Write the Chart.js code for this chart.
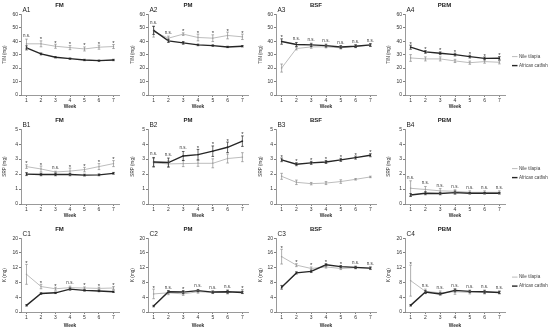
<!DOCTYPE html>
<html><head><meta charset="utf-8">
<script src="https://cdn.jsdelivr.net/npm/chart.js@4.4.0/dist/chart.umd.min.js"></script>
<style>
html,body{margin:0;padding:0;background:#fff;width:550px;height:329px;overflow:hidden;position:relative}
canvas{position:absolute}
</style></head><body>
<script>
// ---------- DATA ----------
const weeks = [1, 2, 3, 4, 5, 6, 7];
const seriesNames = ['Nile tilapia', 'African catfish'];
const feeds = ['FM', 'PM', 'BSF', 'PBM'];
const rowVars = ['TIN (mg)', 'SRP (mg)', 'K (mg)'];
const rowLetters = ['A', 'B', 'C'];
const rowMax = [60, 5, 20];
const rowStep = [10, 0.5, 2];

// Row A (TIN)
const A1_tilapia = [38, 38, 36.2, 35.2, 34.2, 35.5, 36];
const A1_tilapiaErr = [3.5, 2.2, 1.5, 1.5, 1.5, 1.5, 1.5];
const A1_catfish = [35, 30.5, 28, 27, 26, 25.5, 26];
const A1_catfishErr = [1.5, 0.7, 0.5, 0.5, 0.5, 0.5, 0.5];
const A1_sig = ['n.s.', '*', '*', '*', '*', '*', '*'];

const A2_tilapia = [47, 42.2, 45.2, 42.7, 42.2, 44.2, 43.2];
const A2_tilapiaErr = [4, 1.5, 1, 2.5, 2.5, 2.5, 2];
const A2_catfish = [48, 40.2, 38.7, 37.2, 36.7, 35.7, 36.2];
const A2_catfishErr = [3, 1.2, 1, 0.6, 0.5, 0.5, 0.5];
const A2_sig = ['n.s.', 'n.s.', '*', '*', '*', '*', '*'];

const A3_tilapia = [20, 34.5, 35.7, 35.8, 35, 36.3, 36.8];
const A3_tilapiaErr = [3, 1, 1, 0.8, 0.8, 1, 0.8];
const A3_catfish = [39.7, 37.5, 37.2, 36.7, 35.7, 36.2, 37.2];
const A3_catfishErr = [2, 1.5, 1.2, 1, 1, 1, 1];
const A3_sig = ['*', 'n.s.', 'n.s.', 'n.s.', 'n.s.', 'n.s.', 'n.s.'];

const A4_tilapia = [27.5, 26.8, 26.8, 25.3, 24, 24.8, 24.3];
const A4_tilapiaErr = [2.5, 1.5, 1.5, 1.2, 1.2, 1.2, 1.2];
const A4_catfish = [35.5, 32, 31, 30, 28.5, 27.2, 27.3];
const A4_catfishErr = [1.5, 1, 1, 1, 1, 1, 1.2];
const A4_sig = ['*', '*', '*', '*', '*', '*', '*'];

// Row B (SRP)
const B1_tilapia = [2.5, 2.34, 2.14, 2.2, 2.3, 2.5, 2.7];
const B1_tilapiaErr = [0.12, 0.2, 0.05, 0.2, 0.15, 0.2, 0.2];
const B1_catfish = [2.0, 1.97, 1.97, 1.97, 1.93, 1.95, 2.05];
const B1_catfishErr = [0.1, 0.08, 0.08, 0.08, 0.06, 0.06, 0.06];
const B1_sig = ['*', '*', 'n.s.', '*', '*', '*', '*'];

const B2_tilapia = [2.75, 2.68, 2.7, 2.72, 2.72, 3.04, 3.13];
const B2_tilapiaErr = [0.3, 0.2, 0.2, 0.2, 0.3, 0.3, 0.3];
const B2_catfish = [2.81, 2.77, 3.21, 3.3, 3.53, 3.79, 4.2];
const B2_catfishErr = [0.3, 0.3, 0.3, 0.35, 0.35, 0.35, 0.35];
const B2_sig = ['n.s.', 'n.s.', 'n.s.', '*', '*', '*', '*'];

const B3_tilapia = [1.85, 1.45, 1.36, 1.4, 1.5, 1.65, 1.81];
const B3_tilapiaErr = [0.2, 0.15, 0.08, 0.1, 0.12, 0.05, 0.05];
const B3_catfish = [2.95, 2.66, 2.75, 2.81, 2.95, 3.1, 3.26];
const B3_catfishErr = [0.12, 0.1, 0.1, 0.1, 0.1, 0.1, 0.1];
const B3_sig = ['*', '*', '*', '*', '*', '*', '*'];

const B4_tilapia = [1.05, 0.97, 0.88, 0.85, 0.78, 0.78, 0.78];
const B4_tilapiaErr = [0.5, 0.2, 0.15, 0.1, 0.1, 0.1, 0.1];
const B4_catfish = [0.6, 0.72, 0.7, 0.76, 0.72, 0.72, 0.72];
const B4_catfishErr = [0.1, 0.1, 0.08, 0.1, 0.05, 0.05, 0.05];
const B4_sig = ['n.s.', 'n.s.', 'n.s.', 'n.s.', 'n.s.', 'n.s.', 'n.s.'];

// Row C (K)
const C1_tilapia = [10.2, 6.9, 6.3, 6.6, 6.5, 6.4, 6.5];
const C1_tilapiaErr = [2.7, 0.6, 0.4, 0.4, 0.3, 0.3, 0.4];
const C1_catfish = [1.8, 5.0, 5.2, 6.2, 5.85, 5.7, 5.5];
const C1_catfishErr = [0.2, 0.2, 0.2, 0.3, 0.2, 0.2, 0.2];
const C1_sig = ['*', '*', '*', 'n.s.', '*', '*', '*'];

const C2_tilapia = [4.9, 5.2, 4.9, 5.5, 5.3, 5.4, 5.6];
const C2_tilapiaErr = [1.3, 0.5, 0.4, 0.4, 0.3, 0.5, 0.5];
const C2_catfish = [1.6, 5.5, 5.4, 5.8, 5.4, 5.5, 5.3];
const C2_catfishErr = [0.2, 0.3, 0.4, 0.3, 0.3, 0.4, 0.3];
const C2_sig = ['*', 'n.s.', '*', 'n.s.', 'n.s.', 'n.s.', '*'];

const C3_tilapia = [15, 12.7, 11.8, 12.2, 11.8, 12.0, 11.8];
const C3_tilapiaErr = [2, 0.4, 0.4, 0.3, 0.3, 0.3, 0.3];
const C3_catfish = [6.7, 10.6, 11.0, 12.8, 12.3, 12.1, 11.9];
const C3_catfishErr = [0.5, 0.3, 0.3, 0.3, 0.3, 0.3, 0.3];
const C3_sig = ['*', '*', '*', '*', '*', 'n.s.', 'n.s.'];

const C4_tilapia = [8.5, 5.6, 5.2, 5.5, 5.3, 5.3, 5.3];
const C4_tilapiaErr = [4.2, 0.6, 0.5, 0.7, 0.4, 0.4, 0.4];
const C4_catfish = [1.8, 5.4, 4.9, 5.85, 5.6, 5.5, 5.3];
const C4_catfishErr = [0.2, 0.4, 0.3, 0.4, 0.3, 0.4, 0.3];
const C4_sig = ['*', 'n.s.', 'n.s.', 'n.s.', 'n.s.', 'n.s.', 'n.s.'];

const panelData = [
  [[A1_tilapia, A1_tilapiaErr, A1_catfish, A1_catfishErr, A1_sig],
   [A2_tilapia, A2_tilapiaErr, A2_catfish, A2_catfishErr, A2_sig],
   [A3_tilapia, A3_tilapiaErr, A3_catfish, A3_catfishErr, A3_sig],
   [A4_tilapia, A4_tilapiaErr, A4_catfish, A4_catfishErr, A4_sig]],
  [[B1_tilapia, B1_tilapiaErr, B1_catfish, B1_catfishErr, B1_sig],
   [B2_tilapia, B2_tilapiaErr, B2_catfish, B2_catfishErr, B2_sig],
   [B3_tilapia, B3_tilapiaErr, B3_catfish, B3_catfishErr, B3_sig],
   [B4_tilapia, B4_tilapiaErr, B4_catfish, B4_catfishErr, B4_sig]],
  [[C1_tilapia, C1_tilapiaErr, C1_catfish, C1_catfishErr, C1_sig],
   [C2_tilapia, C2_tilapiaErr, C2_catfish, C2_catfishErr, C2_sig],
   [C3_tilapia, C3_tilapiaErr, C3_catfish, C3_catfishErr, C3_sig],
   [C4_tilapia, C4_tilapiaErr, C4_catfish, C4_catfishErr, C4_sig]]
];

// ---------- LAYOUT / STYLE ----------
const FONT = "'Liberation Sans', Arial, sans-serif";
Chart.defaults.font.family = FONT;
Chart.defaults.color = '#333';
const colLeft = [0, 128, 256, 384];
const colWidth = [128, 128, 128, 166];
const yAxisW = [21, 20, 20, 21];
const padRight = [9, 8, 8, 45];
const rowTop = [0, 110, 219];
const rowHeight = [110, 109, 110];
const padTop = [0, 5, 5];
const xAxisH = [15, 15, 17];
const tilapiaColor = '#bdbdbd';
const tilapiaErrColor = '#8c8c8c';
const catfishColor = '#262626';

const overlay = {
  id: 'overlay',
  afterDatasetsDraw(chart, args, o) {
    const { ctx, chartArea } = chart;
    const x = chart.scales.x, y = chart.scales.y;
    const tops = weeks.map(() => Infinity);
    chart.data.datasets.forEach((ds, i) => {
      const err = o.errs[i];
      ctx.save();
      ctx.strokeStyle = i === 0 ? tilapiaErrColor : catfishColor;
      ctx.lineWidth = 0.7;
      ds.data.forEach((v, j) => {
        const px = x.getPixelForValue(weeks[j]);
        const t = y.getPixelForValue(v + err[j]);
        const b = y.getPixelForValue(v - err[j]);
        tops[j] = Math.min(tops[j], t);
        ctx.beginPath();
        ctx.moveTo(px, t); ctx.lineTo(px, b);
        ctx.moveTo(px - 1.3, t); ctx.lineTo(px + 1.3, t);
        ctx.moveTo(px - 1.3, b); ctx.lineTo(px + 1.3, b);
        ctx.stroke();
      });
      ctx.restore();
    });
    ctx.save();
    ctx.fillStyle = '#333';
    ctx.textAlign = 'center';
    ctx.textBaseline = 'alphabetic';
    o.sig.forEach((s, j) => {
      const px = x.getPixelForValue(weeks[j]);
      if (s === '*') {
        ctx.font = '6px ' + FONT;
        ctx.fillText(s, px, tops[j] + 0.5);
      } else {
        ctx.font = '4.5px ' + FONT;
        ctx.fillText(s, px, tops[j] - 2);
      }
    });
    // panel label
    ctx.textAlign = 'left';
    ctx.textBaseline = 'middle';
    ctx.font = '6.5px ' + FONT;
    ctx.fillStyle = '#222';
    ctx.fillText(o.label, chartArea.left + 1.5, chartArea.top - 3.5);
    // legend
    if (o.legend) {
      const cy = (chartArea.top + chartArea.bottom) / 2;
      const items = [[seriesNames[0], tilapiaColor, 1], [seriesNames[1], catfishColor, 1.4]];
      ctx.font = '4.6px ' + FONT;
      items.forEach((it, k) => {
        const ly = cy + 2 + k * 9;
        ctx.strokeStyle = it[1]; ctx.lineWidth = it[2];
        ctx.beginPath();
        ctx.moveTo(chartArea.right + 7, ly); ctx.lineTo(chartArea.right + 12.5, ly);
        ctx.stroke();
        ctx.fillStyle = '#444';
        ctx.fillText(it[0], chartArea.right + 14, ly);
      });
    }
    ctx.restore();
  }
};

for (let r = 0; r < 3; r++) {
  for (let c = 0; c < 4; c++) {
    const [til, tilErr, cat, catErr, sig] = panelData[r][c];
    const cv = document.createElement('canvas');
    cv.width = colWidth[c]; cv.height = rowHeight[r];
    cv.style.left = colLeft[c] + 'px'; cv.style.top = rowTop[r] + 'px';
    cv.style.width = colWidth[c] + 'px'; cv.style.height = rowHeight[r] + 'px';
    document.body.appendChild(cv);
    new Chart(cv, {
      type: 'line',
      data: {
        labels: weeks,
        datasets: [
          { label: seriesNames[0], data: weeks.map((w, i) => ({ x: w, y: til[i] })).map(p => p.y),
            borderColor: tilapiaColor, backgroundColor: tilapiaColor, borderWidth: 1,
            pointRadius: 1, pointStyle: 'rect', pointBorderWidth: 0, order: 1, tension: 0 },
          { label: seriesNames[1], data: cat,
            borderColor: catfishColor, backgroundColor: catfishColor, borderWidth: 1.4,
            pointRadius: 1, pointStyle: 'rect', pointBorderWidth: 0, order: 0, tension: 0 }
        ]
      },
      options: {
        responsive: false, animation: false, devicePixelRatio: 1,
        parsing: true,
        layout: { padding: { top: padTop[r], right: padRight[c], left: 0, bottom: 0 } },
        plugins: {
          legend: { display: false },
          tooltip: { enabled: false },
          title: { display: true, text: feeds[c], font: { size: 6, weight: 'bold' },
                   padding: { top: 2, bottom: 5 }, color: '#222' },
          overlay: { errs: [tilErr, catErr], sig: sig, label: rowLetters[r] + (c + 1), legend: c === 3 }
        },
        scales: {
          x: {
            type: 'linear', min: 0.62, max: 7.38,
            afterBuildTicks: ax => { ax.ticks = weeks.map(v => ({ value: v })); },
            afterFit: ax => { ax.height = xAxisH[r]; },
            ticks: { font: { size: 5 }, color: '#333', padding: 1, maxRotation: 0, autoSkip: false },
            grid: { drawOnChartArea: false, tickLength: 2, color: '#808080' },
            border: { color: '#808080', width: 0.8 },
            title: { display: true, text: 'Week', font: { size: 4.8, weight: 'bold' }, color: '#333',
                     padding: { top: 1, bottom: 0 } }
          },
          y: {
            min: 0, max: rowMax[r],
            afterFit: ax => { ax.width = yAxisW[c]; },
            ticks: { stepSize: rowStep[r], font: { size: 5 }, color: '#333', padding: 1,
                     callback: v => String(+v.toFixed(2)) },
            grid: { drawOnChartArea: false, tickLength: 2, color: '#808080' },
            border: { color: '#808080', width: 0.8 },
            title: { display: true, text: rowVars[r], font: { size: 4.6 }, color: '#333',
                     padding: { top: 2, bottom: 0 } }
          }
        }
      },
      plugins: [overlay]
    });
  }
}
</script>
</body></html>
